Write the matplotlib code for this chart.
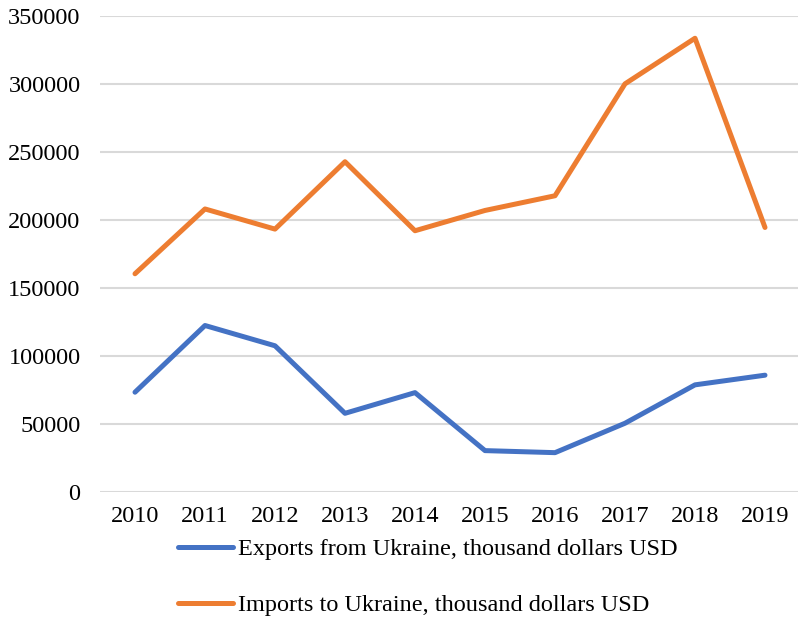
import matplotlib
matplotlib.use("Agg")
import matplotlib.pyplot as plt

# Data
years = ["2010", "2011", "2012", "2013", "2014", "2015", "2016", "2017", "2018", "2019"]
exports = [73300, 122300, 107400, 57800, 73000, 30400, 28900, 50500, 78700, 85800]
imports = [160300, 207900, 193100, 242600, 191900, 206800, 217600, 299800, 333300, 194300]
y_ticks = [0, 50000, 100000, 150000, 200000, 250000, 300000, 350000]

plt.rcParams['font.family'] = ['Liberation Serif', 'DejaVu Serif']

fig = plt.figure(figsize=(7.98, 6.17), dpi=100)
ax = fig.add_axes([100/798, 1 - 492/617, 700/798, (492 - 15.5)/617])

x = range(len(years))
ax.plot(x, exports, color='#4472C4', linewidth=3.6, solid_capstyle='round',
        label='Exports from Ukraine, thousand dollars USD')
ax.plot(x, imports, color='#ED7D31', linewidth=3.6, solid_capstyle='round',
        label='Imports to Ukraine, thousand dollars USD')

ax.set_xlim(-0.5, len(years) - 0.5)
ax.set_ylim(0, 350000)
ax.set_xticks(list(x))
ax.set_xticklabels(years)
ax.set_yticks(y_ticks)
ax.set_yticklabels([str(v) for v in y_ticks])
ax.tick_params(axis='both', length=0, labelsize=17.5, colors='black')
ax.tick_params(axis='y', pad=14)
ax.tick_params(axis='x', pad=10)
ax.grid(axis='y', color='#D9D9D9', linewidth=1.5)
ax.set_axisbelow(True)
for s in ax.spines.values():
    s.set_visible(False)

fig.legend(loc='upper left', bbox_to_anchor=(178/798, 1 - 538/617), frameon=False,
           fontsize=17.5, borderpad=0, borderaxespad=0, handlelength=2.25,
           handletextpad=0.2, labelspacing=1.4)

fig.savefig('out.png', dpi=100)
